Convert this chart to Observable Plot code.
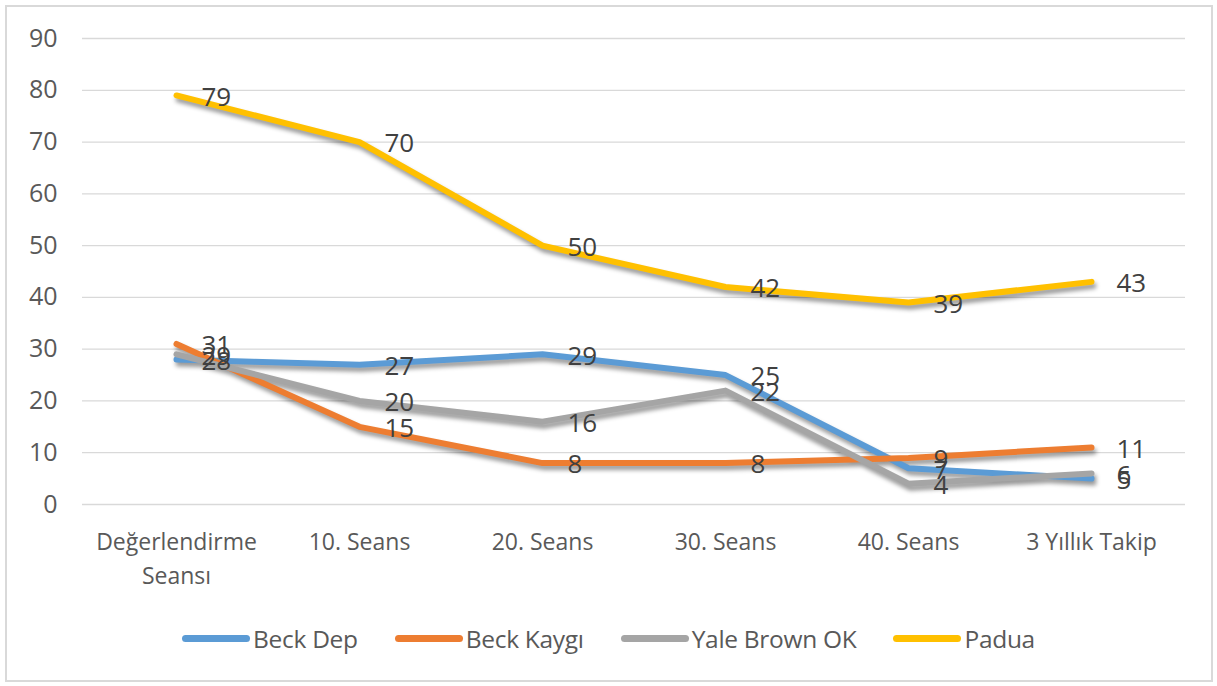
<!DOCTYPE html>
<html>
<head>
<meta charset="utf-8">
<script src="https://cdn.jsdelivr.net/npm/d3@7"></script>
<script src="https://cdn.jsdelivr.net/npm/@observablehq/plot@0.6"></script>
<style>
  html, body { margin: 0; padding: 0; background: #fff; }
  #wrap { position: relative; width: 1217px; height: 686px; font-family: "Open Sans", sans-serif; }
  #border { position: absolute; left: 5px; top: 5px; width: 1204px; height: 673px; border: 2px solid #d9d9d9; }
  #chart { position: absolute; left: 0; top: 0; }
  #legend { position: absolute; left: 0; top: 622px; width: 1217px; display: flex; justify-content: center; gap: 37px; font-size: 24.5px; color: #595959; letter-spacing: -0.3px; }
  .item { display: flex; align-items: center; gap: 3px; }
  .sw { width: 68px; height: 7px; border-radius: 4px; }
</style>
</head>
<body>
<div id="wrap">
  <div id="border"></div>
  <div id="chart"></div>
  <div id="legend"></div>
</div>
<script>
const categories = ["Değerlendirme\nSeansı", "10. Seans", "20. Seans", "30. Seans", "40. Seans", "3 Yıllık Takip"];
const seriesNames = ["Beck Dep", "Beck Kaygı", "Yale Brown OK", "Padua"];
const beckDep = [28, 27, 29, 25, 7, 5];
const beckKaygi = [31, 15, 8, 8, 9, 11];
const yaleBrown = [29, 20, 16, 22, 4, 6];
const padua = [79, 70, 50, 42, 39, 43];
const colors = ["#5B9BD5", "#ED7D31", "#A5A5A5", "#FFC000"];
const yTicks = [0, 10, 20, 30, 40, 50, 60, 70, 80, 90];

const seriesValues = [beckDep, beckKaygi, yaleBrown, padua];
const data = [];
seriesNames.forEach((s, i) => seriesValues[i].forEach((v, j) => data.push({series: s, cat: categories[j], value: v})));

const chart = Plot.plot({
  width: 1217,
  height: 600,
  marginLeft: 82,
  marginRight: 32,
  marginTop: 38,
  marginBottom: 96,
  style: {fontFamily: "'Open Sans', sans-serif", fontSize: "22px", color: "#595959", background: "transparent"},
  x: {type: "point", domain: categories, padding: 0.5, label: null},
  y: {domain: [0, 90], ticks: yTicks, label: null},
  color: {domain: seriesNames, range: colors},
  marks: [
    Plot.gridY(yTicks, {stroke: "#d9d9d9", strokeOpacity: 1, strokeWidth: 1.3}),
    Plot.axisY({ticks: yTicks, tickSize: 0, tickPadding: 25, fontSize: 25, fill: "#595959"}),
    Plot.axisX({tickSize: 0, tickPadding: 22, fontSize: 23, fill: "#595959", lineHeight: 1.45, label: null}),
    Plot.line(data, {x: "cat", y: "value", z: "series", stroke: "series", strokeWidth: 6, strokeLinecap: "round", strokeLinejoin: "round"}),
    Plot.text(data, {x: "cat", y: "value", text: d => String(d.value), textAnchor: "start", dx: 25, dy: 2, fontSize: 26, fill: "#404040"})
  ]
});
d3.select(chart).selectAll('g[aria-label="line"]').style("filter", "drop-shadow(2px 4px 2px rgba(0,0,0,0.4))");
document.getElementById("chart").appendChild(chart);

const legend = document.getElementById("legend");
seriesNames.forEach((s, i) => {
  const it = document.createElement("div");
  it.className = "item";
  const sw = document.createElement("div");
  sw.className = "sw";
  sw.style.background = colors[i];
  const t = document.createElement("span");
  t.textContent = s;
  it.appendChild(sw); it.appendChild(t);
  legend.appendChild(it);
});
</script>
</body>
</html>
